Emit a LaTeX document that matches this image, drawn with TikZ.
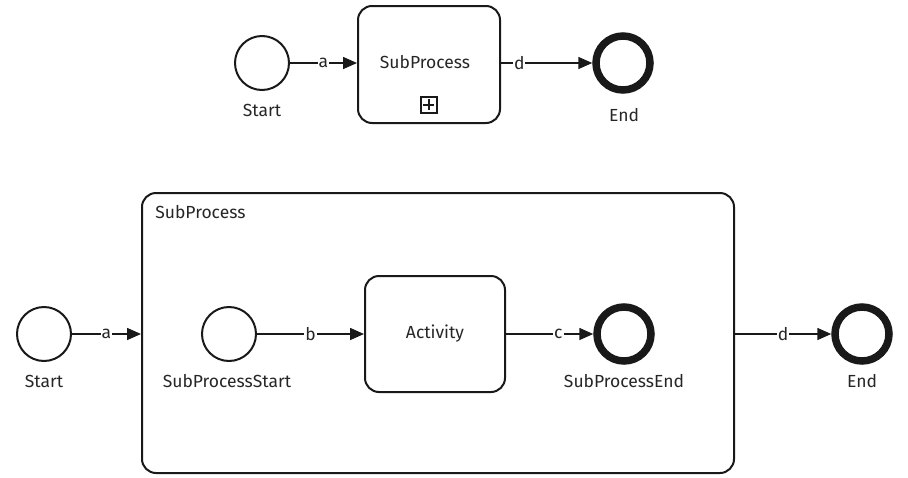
\documentclass[tikz,border=0pt]{standalone}
\usepackage{fontspec}
\setmainfont{Fira Sans}
\usetikzlibrary{arrows.meta}
\begin{document}
\begin{tikzpicture}[x=1pt,y=-1pt,
  line width=2pt, draw={black!90},
  every node/.style={font=\fontsize{17.5}{20}\selectfont, text=black!85},
  startev/.style={circle, draw, line width=2pt, minimum size=54pt, inner sep=0pt},
  endev/.style={circle, draw, line width=7.5pt, minimum size=54pt, inner sep=0pt},
  task/.style={draw, rounded corners=14pt, line width=2pt},
  flow/.style={-{Triangle[length=14pt,width=12pt]}, line width=1.6pt},
  lbl/.style={fill=white, inner sep=1pt},
  evlabel/.style={inner sep=0pt}
]
\useasboundingbox (0,0) rectangle (908,477);

% collapsed subprocess
\node[startev] (s1) at (262,63) {};
\node[evlabel] (s1l) at (262,110) {Start};
\node[task, minimum width=142pt, minimum height=117pt] (sp1) at (429,64.5) {};
\node (sp1l) at (425,62) {SubProcess};
\node[draw, line width=1.2pt, minimum size=16pt, inner sep=0pt] (plus) at (429,105) {};
\draw[line width=1.2pt] (plus.north) ++(0,2.5) -- ++(0,11) (plus.west) ++(2.5,0) -- ++(11,0);
\node[endev] (e1) at (623,63) {};
\node[evlabel] (e1l) at (624,115) {End};
\draw[flow] (s1) -- node[lbl]{a} (s1 -| sp1.west);
\draw[flow] (sp1.east |- e1) -- node[lbl, pos=0.2]{d} (e1);

% expanded subprocess
\node[task, minimum width=592pt, minimum height=280pt, anchor=north west] (sp2) at (141,192) {};
\node[anchor=west] (sp2l) at (151,212) {SubProcess};
\node[startev] (s2) at (44,334) {};
\node[evlabel] (s2l) at (44,381) {Start};
\node[startev] (ss) at (229,334) {};
\node[evlabel] (ssl) at (227,381) {SubProcessStart};
\node[task, minimum width=140pt, minimum height=116pt] (act) at (435,334) {Activity};
\node[endev] (se) at (624,334) {};
\node[evlabel] (sel) at (624,381) {SubProcessEnd};
\node[endev] (e2) at (862,334) {};
\node[evlabel] (e2l) at (862,381) {End};

\draw[flow] (s2) -- node[lbl]{a} (s2 -| sp2.west);
\draw[flow] (ss) -- node[lbl, pos=0.5]{b} (act);
\draw[flow] (act) -- node[lbl, pos=0.6]{c} (se);
\draw[flow] (sp2.east |- e2) -- node[lbl, pos=0.5]{d} (e2);
\end{tikzpicture}
\end{document}
